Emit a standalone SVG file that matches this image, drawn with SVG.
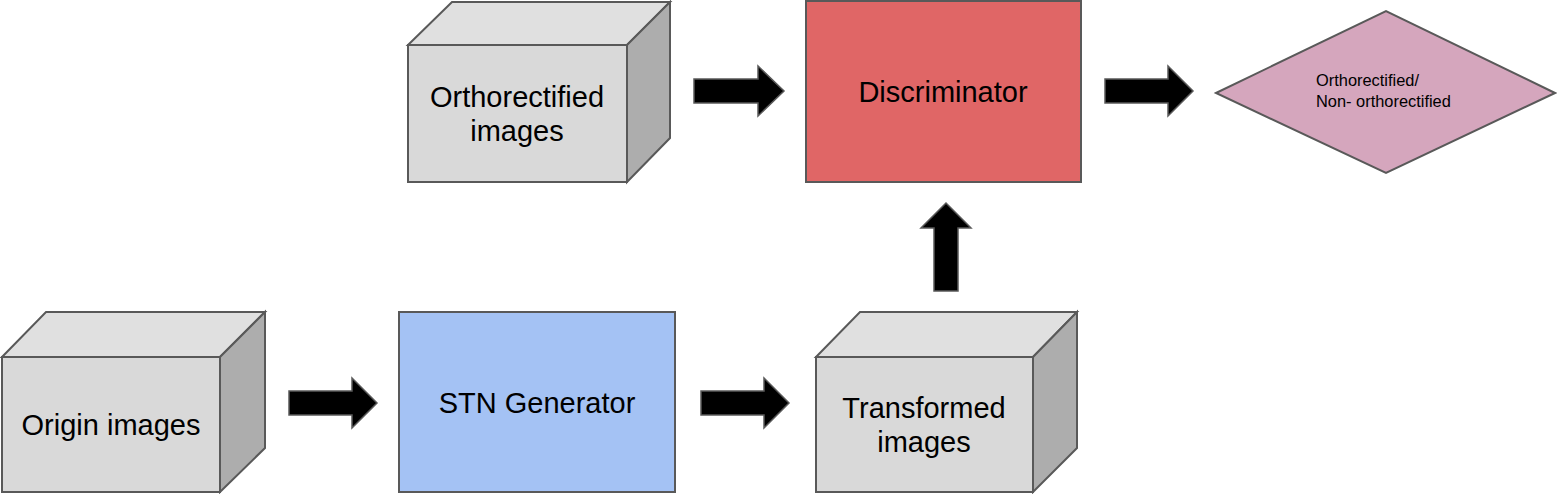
<svg xmlns="http://www.w3.org/2000/svg" width="1557" height="494" viewBox="0 0 1557 494">
<style>
.face{stroke:#595959;stroke-width:2;stroke-linejoin:miter}
.front{fill:#d9d9d9}
.top{fill:#e0e0e0}
.side{fill:#adadad}
.lbl{font-family:"Liberation Sans",Arial,sans-serif;font-size:29px;fill:#000;text-anchor:middle}
.small{font-family:"Liberation Sans",Arial,sans-serif;font-size:16.4px;fill:#000}
.arr{fill:#000;stroke:#595959;stroke-width:1.5}
</style>
<rect width="1557" height="494" fill="#fff"/>
<g id="orthorectified">
<polygon class="face top" points="408,45 452,2 670,2 627,45"/>
<polygon class="face side" points="627,45 670,2 670,138 627,182"/>
<rect class="face front" x="408" y="45" width="219" height="137"/>
<text class="lbl" x="517" y="107">Orthorectified</text>
<text class="lbl" x="517" y="141">images</text>
</g>
<g id="discriminator">
<rect class="face" x="806" y="1" width="275" height="181" fill="#e06666"/>
<text class="lbl" x="943" y="102">Discriminator</text>
</g>
<g id="decision">
<polygon class="face" points="1216,93 1386,11 1555,93 1386,173" fill="#d5a6bd" stroke-width="1.5"/>
<text class="small" x="1316" y="86">Orthorectified/</text>
<text class="small" x="1316" y="107">Non- orthorectified</text>
</g>
<g id="origin">
<polygon class="face top" points="2,357 46,312 265,312 220,357"/>
<polygon class="face side" points="220,357 265,312 265,448 220,492"/>
<rect class="face front" x="2" y="357" width="218" height="135"/>
<text class="lbl" x="111" y="435">Origin images</text>
</g>
<g id="stn">
<rect class="face" x="399" y="312" width="276" height="180" fill="#a4c2f4"/>
<text class="lbl" x="537" y="413">STN Generator</text>
</g>
<g id="transformed">
<polygon class="face top" points="816,357 860,312 1077,312 1033,357"/>
<polygon class="face side" points="1033,357 1077,312 1077,448 1033,492"/>
<rect class="face front" x="816" y="357" width="217" height="135"/>
<text class="lbl" x="924" y="418">Transformed</text>
<text class="lbl" x="924" y="452">images</text>
</g>
<g id="connectors">
<polygon class="arr" points="694,79 758,79 758,66 784,91 758,116 758,103 694,103"/>
<polygon class="arr" points="1105,79 1168,79 1168,66 1193,91 1168,116 1168,103 1105,103"/>
<polygon class="arr" points="289,391 352,391 352,378 377,403 352,428 352,415 289,415"/>
<polygon class="arr" points="701,391 764,391 764,378 789,403 764,428 764,415 701,415"/>
<polygon class="arr" points="934,291 934,228 921,228 946,203 971,228 958,228 958,291"/>
</g>
</svg>
